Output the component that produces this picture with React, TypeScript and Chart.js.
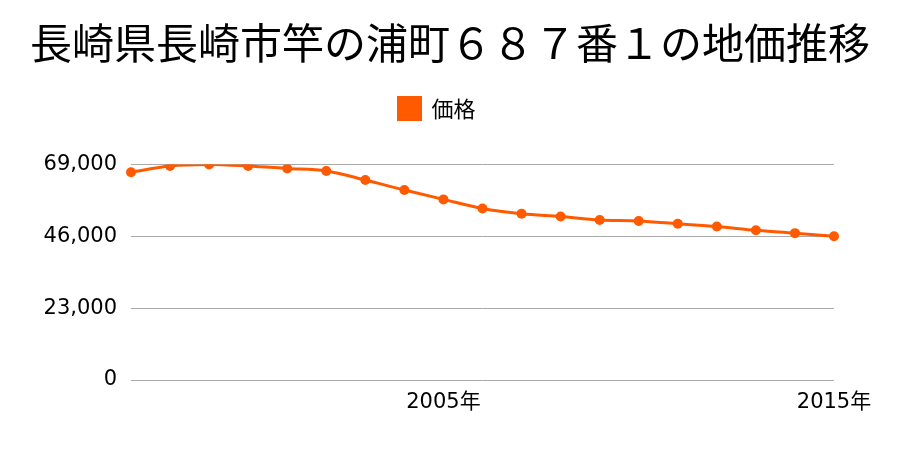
import React, { useEffect, useRef } from "react";
import { Chart, registerables } from "chart.js";

Chart.register(...registerables);

const years: string[] = [
  "1997", "1998", "1999", "2000", "2001", "2002", "2003", "2004", "2005", "2006",
  "2007", "2008", "2009", "2010", "2011", "2012", "2013", "2014", "2015",
];
const prices: number[] = [
  66500, 68500, 69000, 68500, 67700, 66900, 64000, 60800, 57800, 54900,
  53200, 52300, 51200, 50900, 50000, 49100, 47900, 47000, 46000,
];
const shownYears: string[] = ["2005", "2015"];
const yTicks: number[] = [0, 23000, 46000, 69000];
const titleText = "長崎県長崎市竿の浦町６８７番１の地価推移";
const seriesLabel = "価格";

const CJK = "'Noto Sans CJK JP', sans-serif";
const NUM = "'DejaVu Sans', 'Noto Sans CJK JP', sans-serif";
const ORANGE = "#ff5a00";

const legendSpacer = {
  id: "legendSpacer",
  beforeInit(chart: any) {
    const legend = chart.legend;
    if (!legend || legend._patched) return;
    const origFit = legend.fit;
    legend.fit = function () {
      origFit.call(this);
      this.height += 35;
    };
    const origDraw = legend.draw;
    legend.draw = function (...args: any[]) {
      const ctx = this.ctx;
      ctx.save();
      ctx.translate(-13, 0);
      origDraw.apply(this, args);
      ctx.restore();
    };
    legend._patched = true;
  },
};

export default function App() {
  const ref = useRef<HTMLCanvasElement | null>(null);
  useEffect(() => {
    if (!ref.current) return;
    const chart = new Chart(ref.current, {
      type: "line",
      data: {
        labels: years,
        datasets: [
          {
            label: seriesLabel,
            data: prices,
            borderColor: ORANGE,
            backgroundColor: ORANGE,
            borderWidth: 3,
            pointRadius: 5,
            pointHoverRadius: 5,
            pointBackgroundColor: ORANGE,
            pointBorderWidth: 0,
            cubicInterpolationMode: "monotone",
            yAxisID: "y",
          },
        ],
      },
      plugins: [legendSpacer],
      options: {
        animation: false,
        responsive: false,
        layout: { padding: 0 },
        plugins: {
          title: {
            display: true,
            text: titleText,
            color: "#000",
            font: { family: CJK, size: 42, weight: "normal" },
            padding: { top: 18, bottom: 1 },
          },
          legend: {
            display: true,
            labels: {
              color: "#000",
              font: { family: CJK, size: 22 },
              boxWidth: 22,
              boxHeight: 22,
              padding: 28,
            },
          },
          tooltip: { enabled: false },
        },
        scales: {
          x: {
            grid: { display: false, drawTicks: false },
            border: { display: false },
            ticks: {
              autoSkip: false,
              maxRotation: 0,
              minRotation: 0,
              color: "#000",
              font: { family: NUM, size: 21 },
              padding: 10,
              callback: (_v: any, i: number) =>
                shownYears.includes(years[i]) ? years[i] + "年" : "",
            },
            afterFit: (axis: any) => {
              axis.height = 70;
            },
          },
          y: {
            position: "left",
            min: 0,
            max: 69000,
            afterBuildTicks: (axis: any) => {
              axis.ticks = yTicks.map((v) => ({ value: v }));
            },
            grid: { color: "#aaaaaa", lineWidth: 1, drawTicks: false },
            border: { display: false },
            ticks: {
              color: "#000",
              font: { family: NUM, size: 21 },
              padding: 14,
              callback: (v: any) => Number(v).toLocaleString("en-US"),
            },
            afterFit: (axis: any) => {
              axis.width = 131;
            },
          },
          yRight: {
            position: "right",
            display: true,
            grid: { display: false, drawTicks: false },
            border: { display: false },
            ticks: { display: false },
            afterFit: (axis: any) => {
              axis.width = 66;
            },
          },
        },
      },
    });
    return () => chart.destroy();
  }, []);
  return (
    <div style={{ position: "fixed", left: 0, top: 0, width: 900, height: 450, background: "#fff" }}>
      <canvas ref={ref} width={900} height={450} />
    </div>
  );
}
